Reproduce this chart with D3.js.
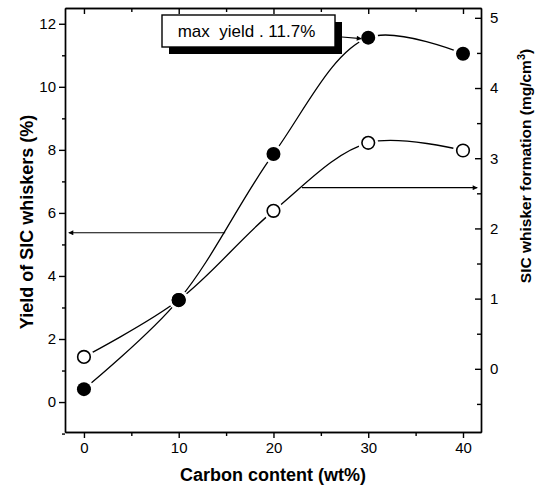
<!DOCTYPE html>
<html>
<head>
<meta charset="utf-8">
<script src="https://cdn.jsdelivr.net/npm/d3@7"></script>
<style>
  body { margin: 0; background: #fff; }
  svg { display: block; font-family: Arial, "Liberation Sans", sans-serif; }
  .axis path, .axis line { stroke: #000; stroke-width: 1.4; }
  .axis text { font-size: 15px; fill: #000; }
  .title { font-weight: bold; }
</style>
</head>
<body>
<div id="chart"></div>
<script>
// data
const carbon = [0, 10, 20, 30, 40];                  // wt%
const yieldPct = [0.41, 3.24, 7.87, 11.56, 11.05];   // left axis, %
const formation = [0.17, 0.98, 2.25, 3.22, 3.11];    // right axis, mg/cm3

const xTicks = [0, 10, 20, 30, 40];
const xMinor = [5, 15, 25, 35];
const leftTicks = [0, 2, 4, 6, 8, 10, 12];
const leftMinor = [-1, 1, 3, 5, 7, 9, 11];
const rightTicks = [0, 1, 2, 3, 4, 5];
const rightMinor = [-0.5, 0.5, 1.5, 2.5, 3.5, 4.5];

const annotation = "max  yield . 11.7%";
// arrows telling which curve belongs to which axis: [x from, x to, y]
const leftArrow = [14.9, -1.6, 5.37];
const rightArrow = [23.0, 41.5, 2.58];

const margin = { top: 8, right: 67, bottom: 57, left: 65 };
const width = 548 - margin.left - margin.right,
    height = 489 - margin.top - margin.bottom;

const svg = d3.select("#chart").append("svg")
    .attr("width", 548)
    .attr("height", 489);

const defs = svg.append("defs");
defs.append("marker")
    .attr("id", "head")
    .attr("viewBox", "0 0 10 10")
    .attr("refX", 9).attr("refY", 5)
    .attr("markerWidth", 7).attr("markerHeight", 5)
    .attr("markerUnits", "userSpaceOnUse")
    .attr("orient", "auto")
    .append("path")
    .attr("d", "M0,0 L10,5 L0,10 Z")
    .attr("fill", "#000");

const g = svg.append("g")
    .attr("transform", "translate(" + margin.left + "," + margin.top + ")");

// scales
const x = d3.scaleLinear().domain([-2, 41.9]).range([0, width]);
const yL = d3.scaleLinear().domain([-0.95, 12.5]).range([height, 0]);
const yR = d3.scaleLinear().domain([-0.9, 5.14]).range([height, 0]);

const fmt = d3.format("d");

// axes
g.append("g").attr("class", "axis")
    .attr("transform", "translate(0," + height + ")")
    .call(d3.axisBottom(x).tickValues(xTicks).tickFormat(fmt).tickSize(6).tickPadding(4).tickSizeOuter(0));
g.append("g").attr("class", "axis")
    .attr("transform", "translate(0," + height + ")")
    .call(d3.axisBottom(x).tickValues(xMinor).tickSize(4).tickFormat("").tickSizeOuter(0));
g.append("g").attr("class", "axis")
    .call(d3.axisTop(x).tickValues(xTicks).tickSize(-6).tickFormat("").tickSizeOuter(0));
g.append("g").attr("class", "axis")
    .call(d3.axisTop(x).tickValues(xMinor).tickSize(-4).tickFormat("").tickSizeOuter(0));

g.append("g").attr("class", "axis")
    .call(d3.axisLeft(yL).tickValues(leftTicks).tickFormat(fmt).tickSize(6).tickPadding(3).tickSizeOuter(0));
g.append("g").attr("class", "axis")
    .call(d3.axisLeft(yL).tickValues(leftMinor).tickSize(3).tickFormat("").tickSizeOuter(0));

g.append("g").attr("class", "axis")
    .attr("transform", "translate(" + width + ",0)")
    .call(d3.axisRight(yR).tickValues(rightTicks).tickFormat(fmt).tickSize(-6).tickPadding(9).tickSizeOuter(0));
g.append("g").attr("class", "axis")
    .attr("transform", "translate(" + width + ",0)")
    .call(d3.axisRight(yR).tickValues(rightMinor).tickSize(-4).tickFormat("").tickSizeOuter(0));

// smooth curves
const lineL = d3.line()
    .x((d, i) => x(carbon[i]))
    .y(d => yL(d))
    .curve(d3.curveCatmullRom.alpha(0.5));
const lineR = d3.line()
    .x((d, i) => x(carbon[i]))
    .y(d => yR(d))
    .curve(d3.curveCatmullRom.alpha(0.5));

g.append("path").datum(yieldPct)
    .attr("d", lineL)
    .attr("fill", "none").attr("stroke", "#000").attr("stroke-width", 1.3);
g.append("path").datum(formation)
    .attr("d", lineR)
    .attr("fill", "none").attr("stroke", "#000").attr("stroke-width", 1.3);

// white gaps where the curves meet the symbols
const points = carbon.map((c, i) => ({ c: c, l: yieldPct[i], r: formation[i] }));
g.selectAll(".gapR").data(points).enter().append("circle")
    .attr("cx", d => x(d.c)).attr("cy", d => yR(d.r))
    .attr("r", 10).attr("fill", "#fff");
g.selectAll(".gapL").data(points).enter().append("circle")
    .attr("cx", d => x(d.c)).attr("cy", d => yL(d.l))
    .attr("r", 10).attr("fill", "#fff");

g.selectAll(".open").data(points).enter().append("circle")
    .attr("cx", d => x(d.c)).attr("cy", d => yR(d.r))
    .attr("r", 6.3).attr("fill", "#fff")
    .attr("stroke", "#000").attr("stroke-width", 1.6);
g.selectAll(".filled").data(points).enter().append("circle")
    .attr("cx", d => x(d.c)).attr("cy", d => yL(d.l))
    .attr("r", 7).attr("fill", "#000");

// axis arrows
g.append("line")
    .attr("x1", x(leftArrow[0])).attr("x2", x(leftArrow[1]))
    .attr("y1", yL(leftArrow[2])).attr("y2", yL(leftArrow[2]))
    .attr("stroke", "#000").attr("stroke-width", 1.2)
    .attr("marker-end", "url(#head)");
g.append("line")
    .attr("x1", x(rightArrow[0])).attr("x2", x(rightArrow[1]))
    .attr("y1", yR(rightArrow[2])).attr("y2", yR(rightArrow[2]))
    .attr("stroke", "#000").attr("stroke-width", 1.2)
    .attr("marker-end", "url(#head)");

// annotation box with drop shadow
const bx = 97, by = 7, bw = 173, bh = 32;
g.append("rect")
    .attr("x", bx + 7).attr("y", by + 7)
    .attr("width", bw).attr("height", bh)
    .attr("fill", "#000");
g.append("rect")
    .attr("x", bx).attr("y", by)
    .attr("width", bw).attr("height", bh)
    .attr("fill", "#fff").attr("stroke", "#000").attr("stroke-width", 1.4);
g.append("text")
    .attr("x", bx + bw / 2 - 2).attr("y", by + bh / 2 + 6)
    .attr("text-anchor", "middle")
    .style("font-size", "17px")
    .style("white-space", "pre")
    .text(annotation);
g.append("line")
    .attr("x1", bx + bw + 7).attr("y1", by + 22)
    .attr("x2", x(30) - 7).attr("y2", yL(yieldPct[3]) + 1)
    .attr("stroke", "#000").attr("stroke-width", 1.2)
    .attr("marker-end", "url(#head)");

// titles
svg.append("text").attr("class", "title")
    .style("font-size", "18px")
    .attr("x", 273).attr("y", 481)
    .attr("text-anchor", "middle")
    .text("Carbon content (wt%)");
svg.append("text").attr("class", "title")
    .style("font-size", "18px")
    .attr("transform", "translate(33,222) rotate(-90)")
    .attr("text-anchor", "middle")
    .text("Yield of SIC whiskers (%)");
const rt = svg.append("text").attr("class", "title")
    .style("font-size", "15.5px")
    .attr("transform", "translate(531,166) rotate(-90)")
    .attr("text-anchor", "middle");
rt.append("tspan").text("SIC whisker formation (mg/cm");
rt.append("tspan").attr("dy", -6).style("font-size", "11px").text("3");
rt.append("tspan").attr("dy", 6).text(")");
</script>
</body>
</html>
